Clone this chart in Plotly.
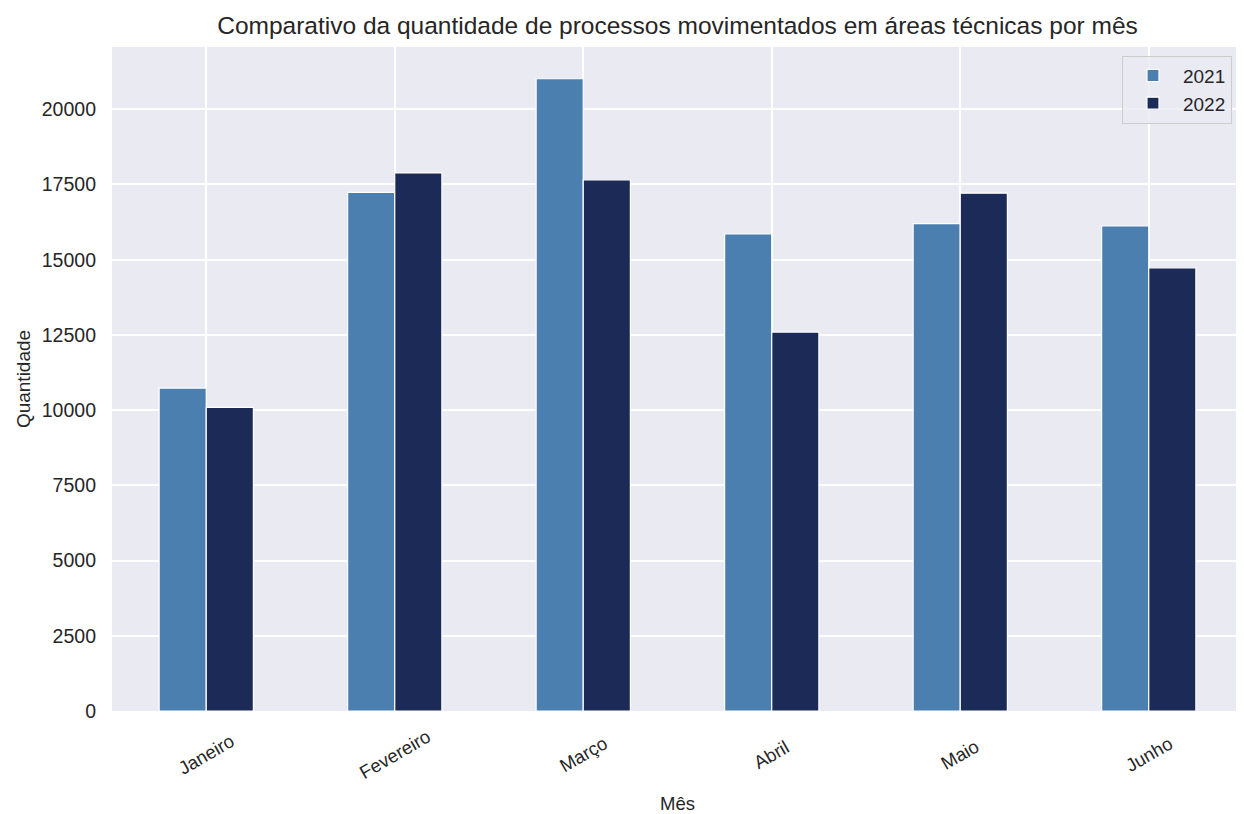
import plotly.graph_objects as go

meses = ["Janeiro", "Fevereiro", "Março", "Abril", "Maio", "Junho"]
qtd_2021 = [10735, 17240, 21015, 15860, 16200, 16125]
qtd_2022 = [10095, 17885, 17655, 12595, 17210, 14730]
y_ticks = [0, 2500, 5000, 7500, 10000, 12500, 15000, 17500, 20000]

FONT = "Liberation Sans, Arial, sans-serif"
TXT = "#262626"

fig = go.Figure()
for ano, vals, color in [("2021", qtd_2021, "#4a7fb0"), ("2022", qtd_2022, "#1b2a56")]:
    fig.add_trace(go.Bar(
        x=meses, y=vals, name=ano,
        marker=dict(color=color, line=dict(color="white", width=1.2)),
    ))

# rotated month labels centred on each group (matplotlib style)
for m in meses:
    fig.add_annotation(x=m, xref="x", y=-0.066, yref="y domain",
                       text=m, showarrow=False, textangle=-30,
                       xanchor="center", yanchor="middle",
                       font=dict(size=18.5, color=TXT))

fig.update_layout(
    width=1236, height=806,
    barmode="group", bargap=0.5, bargroupgap=0,
    paper_bgcolor="white", plot_bgcolor="#eaeaf2",
    font=dict(family=FONT, size=18, color=TXT),
    title=dict(text="Comparativo da quantidade de processos movimentados em áreas técnicas por mês",
               x=0.5, xref="paper", xanchor="center", y=0.979, yanchor="middle",
               font=dict(size=24.5, color=TXT)),
    margin=dict(l=104, r=1, t=39, b=103),
    legend=dict(x=0.893, y=0.987, xanchor="left", yanchor="top", itemwidth=50,
                bgcolor="rgba(234,234,242,0.8)", bordercolor="#cccccc", borderwidth=1,
                font=dict(size=19, color=TXT), traceorder="normal"),
    xaxis=dict(title=dict(text="Mês", font=dict(size=18.5), standoff=86),
               showticklabels=False, showgrid=True, gridcolor="white", gridwidth=1.5,
               range=[-0.5, 5.5], ticks="", zeroline=False),
    yaxis=dict(title=dict(text="Quantidade", font=dict(size=19), standoff=6),
               range=[0, 22070], tickvals=y_ticks, ticktext=[str(v) for v in y_ticks],
               tickfont=dict(size=19.5), ticklabelstandoff=15,
               showgrid=True, gridcolor="white", gridwidth=1.5, zeroline=False, ticks=""),
)

fig.write_html("out.html")
